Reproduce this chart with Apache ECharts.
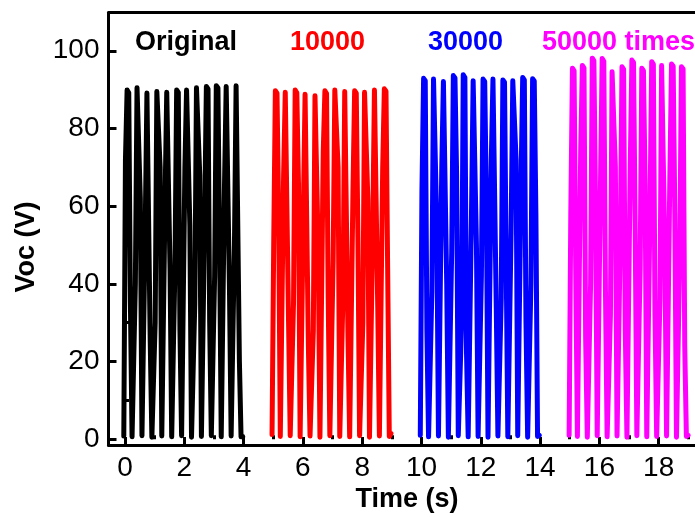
<!DOCTYPE html>
<html>
<head>
<meta charset="utf-8">
<script src="https://cdn.jsdelivr.net/npm/echarts@6/dist/echarts.min.js"></script>
<style>html,body{margin:0;padding:0;background:#fff;}#c{width:695px;height:517px;}</style>
</head>
<body>
<div id="c"></div>
<script>
// ---- data ----
const xTickValues = [0, 2, 4, 6, 8, 10, 12, 14, 16, 18];
const xMinorValues = [1, 3, 5, 7, 9, 11, 13, 15, 17, 19];
const yTickValues = [0, 20, 40, 60, 80, 100];
const yMinorValues = [10, 30, 50, 70, 90];

const labels = ['Original', '10000', '30000', '50000 times'];
const colors = ['#000000', '#ff0000', '#0000ff', '#ff00ff'];

// start time of each block (s) and sampling step (s)
const blockStart = [-0.04, 4.96, 9.96, 14.98];
const sampleStep = 0.0557;

// per-cycle samples (V): valley, rising edge, peak, second top sample, falling edge, second bottom sample
const origValley = [0.8, 0.5, 1.0, 0.6, 0.9, 0.5, 0.7, 1.0, 0.6, 0.8, 0.5, 0.9, 0.7];
const origRise   = [72, 40, 55, 30, 62, 45, 70, 35, 58, 42, 66, 50];
const origPeak   = [89.9, 90.5, 89.1, 89.5, 89.3, 89.9, 89.9, 90.5, 90.8, 91.0, 90.8, 91.0];
const origTop2   = [89.2, 90.0, 88.7, 89.0, 88.9, 89.3, 89.5, 90.1, 90.2, 90.4, 90.3, 90.5];
const origFall   = [35, 62, 25, 70, 44, 28, 55, 68, 30, 50, 38, 20];
const origLow2   = [0.6, 0.9, 0.5, 0.8, 0.6, 0.9, 0.5, 0.7, 0.9, 0.6, 0.8, 0.6];

const c10kValley = [1.2, 0.6, 0.9, 0.5, 1.0, 0.7, 0.6, 0.9, 0.5, 0.8, 0.6, 1.0, 1.5];
const c10kRise   = [50, 68, 35, 60, 28, 74, 46, 38, 64, 30, 55, 70];
const c10kPeak   = [89.7, 89.3, 89.9, 88.8, 88.4, 89.7, 89.9, 89.5, 89.7, 89.3, 89.9, 90.2];
const c10kTop2   = [89.1, 88.9, 89.2, 88.3, 88.0, 89.0, 89.4, 89.0, 89.1, 88.8, 89.5, 89.6];
const c10kFall   = [58, 30, 66, 24, 48, 36, 70, 26, 52, 62, 34, 44];
const c10kLow2   = [0.7, 0.9, 0.6, 0.8, 0.5, 0.9, 0.7, 0.6, 0.9, 0.5, 0.8, 0.7];

const c30kValley = [1.0, 0.5, 0.8, 0.6, 0.9, 0.5, 0.7, 0.6, 0.8, 0.5, 0.7, 0.6, 1.0];
const c30kRise   = [64, 38, 70, 48, 30, 58, 42, 72, 36, 54, 66, 40];
const c30kPeak   = [92.9, 92.7, 92.1, 93.6, 93.8, 92.3, 92.7, 92.7, 92.5, 92.3, 93.1, 92.8];
const c30kTop2   = [92.3, 92.2, 91.6, 93.0, 93.1, 91.8, 92.1, 92.2, 91.9, 91.8, 92.5, 92.2];
const c30kFall   = [28, 55, 40, 68, 22, 50, 62, 34, 46, 72, 30, 58];
const c30kLow2   = [0.6, 0.8, 0.5, 0.9, 0.6, 0.7, 0.5, 0.8, 0.6, 0.9, 0.5, 0.7];

const c50kValley = [1.0, 0.6, 0.8, 0.5, 0.9, 0.6, 0.7, 0.5, 0.8, 0.6, 0.7, 0.5, 1.0];
const c50kRise   = [58, 74, 40, 66, 32, 52, 70, 44, 60, 36, 68, 48];
const c50kPeak   = [95.5, 96.2, 98.1, 98.0, 94.6, 95.9, 97.6, 95.5, 97.2, 96.2, 96.6, 95.9];
const c50kTop2   = [94.9, 95.6, 97.4, 97.3, 94.1, 95.2, 97.0, 94.9, 96.5, 95.7, 96.0, 95.3];
const c50kFall   = [44, 26, 60, 38, 70, 28, 54, 66, 32, 48, 58, 24];
const c50kLow2   = [0.7, 0.5, 0.9, 0.6, 0.8, 0.5, 0.9, 0.6, 0.7, 0.8, 0.5, 0.7];

const blocks = [
  [origValley, origRise, origPeak, origTop2, origFall, origLow2],
  [c10kValley, c10kRise, c10kPeak, c10kTop2, c10kFall, c10kLow2],
  [c30kValley, c30kRise, c30kPeak, c30kTop2, c30kFall, c30kLow2],
  [c50kValley, c50kRise, c50kPeak, c50kTop2, c50kFall, c50kLow2]
];

function buildSeriesData(b, start) {
  const [va, ri, pk, tp, fa, lo] = b;
  const vals = [];
  for (let k = 0; k < pk.length; k++) {
    vals.push(va[k], ri[k], pk[k], tp[k], fa[k], lo[k]);
  }
  vals.push(va[pk.length]);
  return vals.map((v, i) => [start + i * sampleStep, v]);
}

const FONT = '"Liberation Sans", Arial, sans-serif';
const xMin = -0.556, xMax = 19.225, yMin = -1.5, yMax = 109.8;

const chart = echarts.init(document.getElementById('c'), null, {renderer: 'canvas'});

const series = blocks.map((b, i) => ({
  type: 'line',
  name: labels[i],
  xAxisIndex: 0,
  yAxisIndex: 0,
  data: buildSeriesData(b, blockStart[i]),
  showSymbol: false,
  symbol: 'none',
  lineStyle: {color: colors[i], width: 5, join: 'round', cap: 'round'},
  itemStyle: {color: colors[i]},
  animation: false,
  silent: true
}));

const textPos = [[135, 43], [290, 43], [428, 43], [542, 43]];

chart.setOption({
  animation: false,
  grid: {left: 108.5, top: 12.7, right: 0, height: 432.3, containLabel: false},
  xAxis: [
    {
      type: 'value', min: xMin, max: xMax, position: 'bottom',
      axisLine: {show: true, onZero: false, lineStyle: {color: '#000', width: 3}},
      axisTick: {show: true, inside: true, length: 8, customValues: xTickValues, lineStyle: {color: '#000', width: 3}},
      axisLabel: {show: true, customValues: xTickValues, color: '#000', fontSize: 28, fontFamily: FONT, margin: 9},
      splitLine: {show: false}
    },
    {
      type: 'value', min: xMin, max: xMax, position: 'bottom',
      axisLine: {show: false},
      axisTick: {show: true, inside: true, length: 4, customValues: xMinorValues, lineStyle: {color: '#000', width: 3}},
      axisLabel: {show: false},
      splitLine: {show: false}
    },
    {
      type: 'value', min: xMin, max: xMax, position: 'top',
      axisLine: {show: true, onZero: false, lineStyle: {color: '#000', width: 3}},
      axisTick: {show: false}, axisLabel: {show: false}, splitLine: {show: false}
    }
  ],
  yAxis: [
    {
      type: 'value', min: yMin, max: yMax, position: 'left',
      axisLine: {show: true, onZero: false, lineStyle: {color: '#000', width: 3}},
      axisTick: {show: true, inside: true, length: 8, customValues: yTickValues, lineStyle: {color: '#000', width: 3}},
      axisLabel: {show: true, customValues: yTickValues, color: '#000', fontSize: 28, fontFamily: FONT, margin: 9},
      splitLine: {show: false}
    },
    {
      type: 'value', min: yMin, max: yMax, position: 'left', offset: 0,
      axisLine: {show: false},
      axisTick: {show: true, inside: true, length: 4, customValues: yMinorValues, lineStyle: {color: '#000', width: 3}},
      axisLabel: {show: false},
      splitLine: {show: false}
    }
  ],
  series: series,
  graphic: [
    ...labels.map((t, i) => ({
      type: 'text', silent: true,
      style: {text: t, x: textPos[i][0], y: textPos[i][1], fill: colors[i],
        font: 'bold 27px ' + FONT, align: 'left', verticalAlign: 'middle'}
    })),
    {
      type: 'text', silent: true,
      style: {text: 'Time (s)', x: 407, y: 500, fill: '#000', font: 'bold 27px ' + FONT,
        align: 'center', verticalAlign: 'middle'}
    },
    {
      type: 'text', silent: true, x: 27, y: 247, rotation: Math.PI / 2,
      style: {text: 'Voc (V)', x: 0, y: 0, fill: '#000', font: 'bold 27px ' + FONT,
        align: 'center', verticalAlign: 'middle'}
    }
  ]
});
</script>
</body>
</html>
